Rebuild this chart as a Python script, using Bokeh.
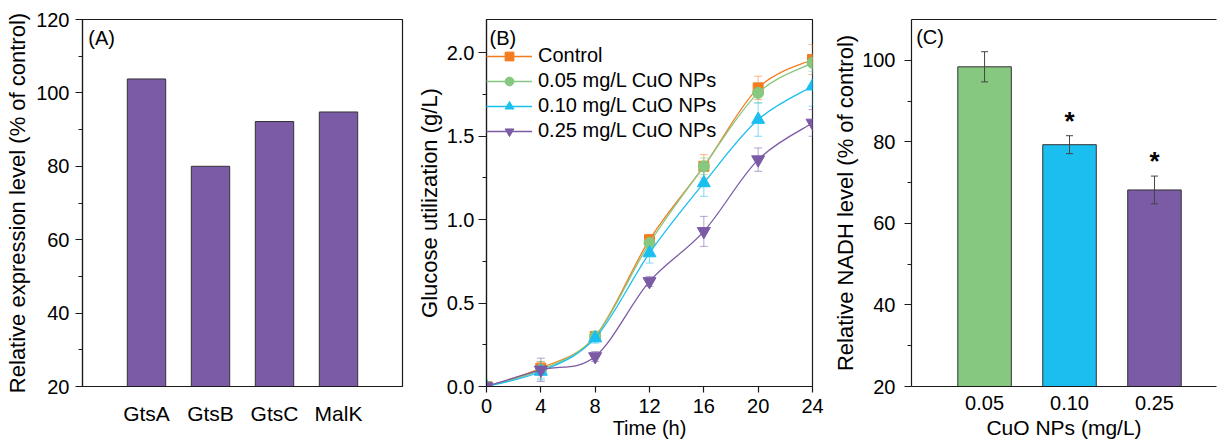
import numpy as np
from bokeh.plotting import figure
from bokeh.layouts import row
from bokeh.models import (Range1d, FixedTicker, Whisker, TeeHead, Legend, LegendItem,
                          Label, LinearAxis, ColumnDataSource, PrintfTickFormatter)
from bokeh.core.properties import value
from bokeh.embed import file_html
from bokeh.resources import INLINE

FONT = "Liberation Sans"
INK = "#1a1a1a"

# ---------------- data ----------------
# (A) relative expression of glucose transport genes
genes = ["GtsA", "GtsB", "GtsC", "MalK"]
gene_expression = [103.8, 80.0, 92.2, 94.8]

# (B) glucose utilization over time
time_h = [0, 4, 8, 12, 16, 20, 24]
series_names = ["Control", "0.05 mg/L CuO NPs", "0.10 mg/L CuO NPs", "0.25 mg/L CuO NPs"]
glucose_control = [0.0, 0.11, 0.30, 0.88, 1.32, 1.79, 1.96]
glucose_control_err = [0.02, 0.04, 0.03, 0.03, 0.07, 0.07, 0.09]
glucose_005 = [0.0, 0.10, 0.30, 0.86, 1.32, 1.76, 1.94]
glucose_005_err = [0.02, 0.05, 0.03, 0.04, 0.05, 0.06, 0.05]
glucose_010 = [0.0, 0.09, 0.29, 0.80, 1.22, 1.60, 1.80]
glucose_010_err = [0.02, 0.05, 0.03, 0.06, 0.08, 0.10, 0.12]
glucose_025 = [0.0, 0.10, 0.18, 0.63, 0.93, 1.36, 1.58]
glucose_025_err = [0.01, 0.07, 0.03, 0.03, 0.09, 0.07, 0.08]

# (C) relative NADH level
nadh_doses = ["0.05", "0.10", "0.25"]
nadh_level = [98.4, 79.3, 68.2]
nadh_err = [3.7, 2.2, 3.4]
nadh_signif = [False, True, True]

PURPLE = "#7b5aa6"
GREEN = "#86c87f"
CYAN = "#1bbfef"
ORANGE = "#f47c20"

FIG_H = 441


def base_fig(width, x_range, y_range, mbl, mbr):
    p = figure(width=width, height=FIG_H, x_range=x_range, y_range=y_range,
               output_backend="svg", toolbar_location=None,
               min_border_left=mbl, min_border_right=mbr,
               min_border_top=19, min_border_bottom=53)
    p.grid.visible = False
    p.outline_line_color = INK
    p.outline_line_width = 1.2
    p.background_fill_color = "white"
    p.border_fill_color = "white"
    for ax in p.axis:
        ax.axis_line_color = INK
        ax.axis_line_width = 1.2
        ax.major_tick_line_color = INK
        ax.major_tick_line_width = 1.2
        ax.minor_tick_line_color = INK
        ax.minor_tick_line_width = 1.2
        ax.major_tick_in = 0
        ax.minor_tick_in = 0
        ax.major_label_text_font = FONT
        ax.major_label_text_color = "black"
        ax.axis_label_text_font = FONT
        ax.axis_label_text_font_style = "normal"
        ax.axis_label_text_color = "black"
    return p


def panel_label(p, x, y, text):
    p.add_layout(Label(x=x, y=y, text=text, text_font=FONT, text_font_size="20px",
                       text_baseline="top", text_align="left", text_color="black"))


# ---------------- (A) ----------------
pa = base_fig(410, Range1d(0, 5), Range1d(20, 120), 82, 8)
xa = list(range(1, len(genes) + 1))
pa.vbar(x=xa, top=gene_expression, bottom=20, width=0.6, fill_color=PURPLE,
        line_color="#333333", line_width=1)
pa.xaxis.ticker = FixedTicker(ticks=xa)
pa.xaxis.major_label_overrides = {i: g for i, g in zip(xa, genes)}
pa.xaxis.major_tick_out = 0
pa.xaxis.minor_tick_out = 0
pa.xaxis.major_label_standoff = 15
pa.xaxis.major_label_text_font_size = "21px"
pa.yaxis.ticker = FixedTicker(ticks=[20, 40, 60, 80, 100, 120], minor_ticks=[30, 50, 70, 90, 110])
pa.yaxis.major_tick_out = 7
pa.yaxis.minor_tick_out = 4
pa.yaxis.major_label_standoff = 6
pa.yaxis.major_label_text_font_size = "20px"
pa.yaxis.axis_label = "Relative expression level (% of control)"
pa.yaxis.axis_label_text_font_size = "22px"
pa.yaxis.axis_label_standoff = 3
panel_label(pa, 0.09, 118.0, "(A)")

# ---------------- (B) ----------------
pb = base_fig(420, Range1d(0, 24), Range1d(0, 2.2), 76, 18)
pb.xaxis.ticker = FixedTicker(ticks=time_h)
pb.xaxis.major_tick_out = 6
pb.xaxis.major_label_standoff = 6
pb.xaxis.major_label_text_font_size = "20px"
pb.xaxis.axis_label = "Time (h)"
pb.xaxis.axis_label_text_font_size = "20px"
pb.xaxis.axis_label_standoff = 1
pb.yaxis.ticker = FixedTicker(ticks=[0, 0.5, 1.0, 1.5, 2.0], minor_ticks=[0.25, 0.75, 1.25, 1.75])
pb.yaxis.formatter = PrintfTickFormatter(format="%.1f")
pb.yaxis.major_tick_out = 8
pb.yaxis.minor_tick_out = 4
pb.yaxis.major_label_standoff = 4
pb.yaxis.major_label_text_font_size = "20px"
pb.yaxis.axis_label = "Glucose utilization (g/L)"
pb.yaxis.axis_label_text_font_size = "22px"
pb.yaxis.axis_label_standoff = 2


def smooth_segments(x, y):
    # Catmull-Rom spline through the measured points, expressed as cubic Bezier segments
    x = np.asarray(x, float)
    y = np.asarray(y, float)
    n = len(x)
    xp = np.concatenate([[x[0]], x, [x[-1]]])
    yp = np.concatenate([[y[0]], y, [y[-1]]])
    seg = dict(x0=[], y0=[], x1=[], y1=[], cx0=[], cy0=[], cx1=[], cy1=[])
    for i in range(n - 1):
        seg["x0"].append(x[i]); seg["y0"].append(y[i])
        seg["x1"].append(x[i + 1]); seg["y1"].append(y[i + 1])
        seg["cx0"].append(x[i] + (xp[i + 2] - xp[i]) / 6)
        seg["cy0"].append(y[i] + (yp[i + 2] - yp[i]) / 6)
        seg["cx1"].append(x[i + 1] - (xp[i + 3] - xp[i + 1]) / 6)
        seg["cy1"].append(y[i + 1] - (yp[i + 3] - yp[i + 1]) / 6)
    return seg


b_series = [
    (series_names[0], glucose_control, glucose_control_err, ORANGE, "square", 10),
    (series_names[1], glucose_005, glucose_005_err, GREEN, "circle", 11),
    (series_names[2], glucose_010, glucose_010_err, CYAN, "triangle", 13),
    (series_names[3], glucose_025, glucose_025_err, PURPLE, "inverted_triangle", 13),
]
legend_items = []
for name, vals, errs, col, marker, size in b_series:
    src = ColumnDataSource(dict(t=time_h, v=vals,
                                up=[v + e for v, e in zip(vals, errs)],
                                lo=[v - e for v, e in zip(vals, errs)]))
    pb.add_layout(Whisker(source=src, base="t", upper="up", lower="lo", dimension="height",
                          line_color=col, line_alpha=0.55, line_width=1, level="underlay",
                          upper_head=TeeHead(size=8, line_color=col, line_alpha=0.55, line_width=1),
                          lower_head=TeeHead(size=8, line_color=col, line_alpha=0.55, line_width=1)))
    seg = smooth_segments(time_h, vals)
    br = pb.bezier(x0="x0", y0="y0", x1="x1", y1="y1", cx0="cx0", cy0="cy0", cx1="cx1", cy1="cy1",
                   source=ColumnDataSource(seg), line_color=col, line_width=1.3)
    sr = pb.scatter(x="t", y="v", source=src, marker=marker, size=size,
                    fill_color=col, line_color=col)
    legend_items.append(LegendItem(label=name, renderers=[br, sr]))

legend = Legend(items=legend_items, location=(0, 244), border_line_color=None,
                background_fill_alpha=0, padding=0, margin=0, spacing=2,
                glyph_width=46, glyph_height=22, label_standoff=6, label_height=22,
                label_text_font=FONT, label_text_font_size="20px", label_text_color="black")
pb.add_layout(legend)
panel_label(pb, 0.22, 2.155, "(B)")

# ---------------- (C) ----------------
pc = base_fig(388, Range1d(0.14, 3.73), Range1d(20, 110), 78, 2)
pc.outline_line_color = None
xc = list(range(1, len(nadh_doses) + 1))
pc.vbar(x=xc, top=nadh_level, bottom=20, width=0.63, fill_color=[GREEN, CYAN, PURPLE],
        line_color="#333333", line_width=1)
csrc = ColumnDataSource(dict(x=xc, up=[v + e for v, e in zip(nadh_level, nadh_err)],
                             lo=[v - e for v, e in zip(nadh_level, nadh_err)]))
pc.add_layout(Whisker(source=csrc, base="x", upper="up", lower="lo", dimension="height",
                      line_color="#444444", line_width=1, level="overlay",
                      upper_head=TeeHead(size=7, line_color="#444444", line_width=1),
                      lower_head=TeeHead(size=7, line_color="#444444", line_width=1)))
sx = [x for x, s in zip(xc, nadh_signif) if s]
sy = [v + e + 3.6 for v, e, s in zip(nadh_level, nadh_err, nadh_signif) if s]
pc.text(x=sx, y=sy, text=["*"] * len(sx), text_font=value(FONT), text_font_size="26px",
        text_font_style="bold", text_align="center", text_baseline="alphabetic", text_color="black")
pc.xaxis.ticker = FixedTicker(ticks=xc)
pc.xaxis.major_label_overrides = {i: d for i, d in zip(xc, nadh_doses)}
pc.xaxis.major_tick_out = 0
pc.xaxis.minor_tick_out = 0
pc.xaxis.major_label_standoff = 9
pc.xaxis.major_label_text_font_size = "20px"
pc.xaxis.axis_label = "CuO NPs (mg/L)"
pc.xaxis.axis_label_text_font_size = "21px"
pc.xaxis.axis_label_standoff = 3
pc.yaxis.ticker = FixedTicker(ticks=[20, 40, 60, 80, 100], minor_ticks=[30, 50, 70, 90])
pc.yaxis.major_tick_out = 7
pc.yaxis.minor_tick_out = 4
pc.yaxis.major_label_standoff = 9
pc.yaxis.major_label_text_font_size = "20px"
pc.yaxis.axis_label = "Relative NADH level (% of control)"
pc.yaxis.axis_label_text_font_size = "22px"
pc.yaxis.axis_label_standoff = 1
top_axis = LinearAxis(ticker=FixedTicker(ticks=[]), major_tick_out=0, major_tick_in=0,
                      minor_tick_out=0, minor_tick_in=0, axis_line_color=INK, axis_line_width=1.2,
                      major_label_standoff=0)
pc.add_layout(top_axis, "above")
panel_label(pc, 0.195, 108.3, "(C)")

layout = row(pa, pb, pc)
open("out.html", "w").write(file_html(layout, INLINE))
